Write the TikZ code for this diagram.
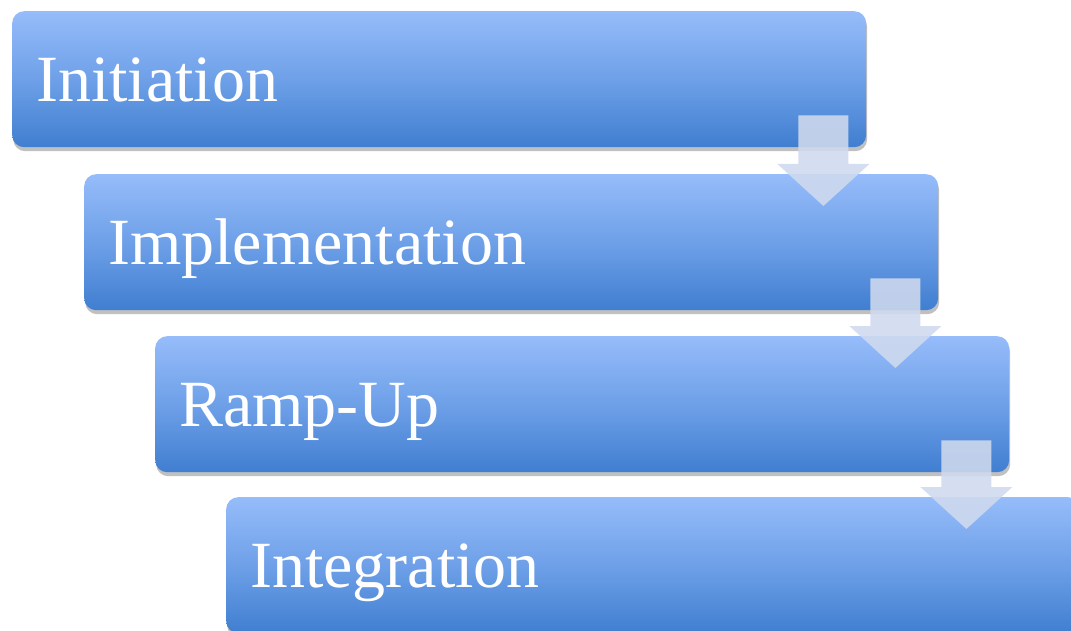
\documentclass[tikz,border=0pt]{standalone}
\usepackage{fontspec}
\setmainfont{Liberation Serif}
\usetikzlibrary{calc,shadows}
\definecolor{boxtop}{RGB}{150,188,250}
\definecolor{boxmid}{RGB}{110,160,232}
\definecolor{boxbot}{RGB}{64,126,208}
\definecolor{arrowcol}{RGB}{208,218,238}
\tikzset{
  stage/.style={rounded corners=12pt, minimum width=854pt, minimum height=136pt,
    anchor=north west, inner sep=0pt,
    top color=boxtop, bottom color=boxbot, middle color=boxmid,
    drop shadow={shadow xshift=1pt, shadow yshift=-4pt, opacity=0.35, fill=black!70}},
  stagelabel/.style={anchor=base west, text=white, font=\fontsize{66}{70}\selectfont, inner sep=0pt},
  downarrow/.style={fill=arrowcol, fill opacity=0.88}
}
\newcommand{\stagearrow}[2]{%
  \coordinate (top#1) at ($(#1.south east)+(-43,32)$);
  \path (#2.north) ++(0,-32) coordinate (low#1);
  \coordinate (tip#1) at (top#1 |- low#1);
  \fill[downarrow] ($(top#1)+(-25,0)$) -- ($(top#1)+(25,0)$)
    -- ($(tip#1)+(25,42)$) -- ($(tip#1)+(46,42)$) -- (tip#1)
    -- ($(tip#1)+(-46,42)$) -- ($(tip#1)+(-25,42)$) -- cycle;
}
\begin{document}
\begin{tikzpicture}[x=1pt,y=1pt]
\fill[white] (0,0) rectangle (1071,-631);
\useasboundingbox (0,0) rectangle (1071,-631);
\begin{scope}
\clip (0,0) rectangle (1071,-631);
\node[stage] (n1) at (12,-11) {};
\node[stage] (n2) at (84,-174) {};
\node[stage] (n3) at (155,-336) {};
\node[stage] (n4) at (226,-497) {};
\node[stagelabel] (l1) at ($(n1.west)+(24,-22)$) {Initiation};
\node[stagelabel] (l2) at ($(n2.west)+(24,-22)$) {Implementation};
\node[stagelabel] (l3) at ($(n3.west)+(24,-22)$) {Ramp-Up};
\node[stagelabel] (l4) at ($(n4.west)+(24,-22)$) {Integration};
\stagearrow{n1}{n2}
\stagearrow{n2}{n3}
\stagearrow{n3}{n4}
\end{scope}
\end{tikzpicture}
\end{document}
